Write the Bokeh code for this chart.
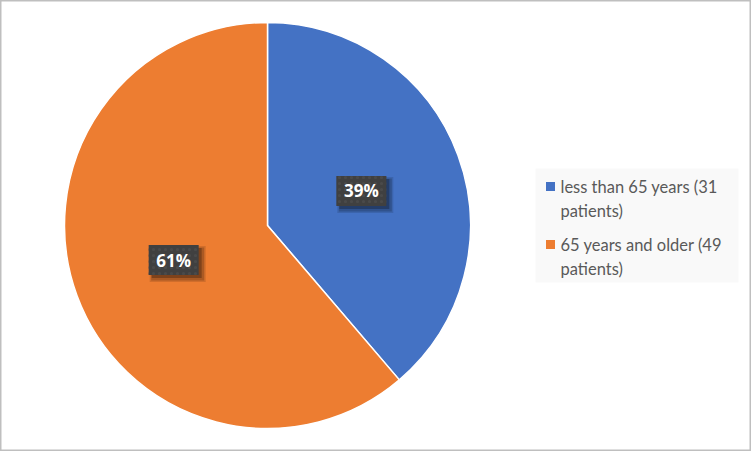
import numpy as np
from bokeh.plotting import figure
from bokeh.models import Range1d, ColumnDataSource
from bokeh.core.properties import value
from bokeh.embed import file_html
from bokeh.resources import INLINE

# ---- data ----
categories = ["less than 65 years (31 patients)", "65 years and older (49 patients)"]
patients = [31, 49]
pct_labels = ["39%", "61%"]
colors = ["#4472C4", "#ED7D31"]
legend_lines = [["less than 65 years (31", "patients)"], ["65 years and older (49", "patients)"]]

W, H = 751, 451
p = figure(width=W, height=H, output_backend="svg", toolbar_location=None,
           x_range=Range1d(0, W), y_range=Range1d(0, H), min_border=0)
p.axis.visible = False
p.grid.visible = False
p.outline_line_color = "#BFBFBF"
p.outline_line_width = 2
p.background_fill_color = "white"
p.border_fill_color = "white"

def sx(x):  # screenshot x -> data
    return x
def sy(y):
    return H - y

cx, cy, R = sx(267), sy(225), 203
vals = np.array(patients, dtype=float)
frac = vals / vals.sum()
ends = np.pi / 2 - 2 * np.pi * np.cumsum(frac)
starts = np.concatenate([[np.pi / 2], ends[:-1]])
src = ColumnDataSource(dict(start=ends, end=starts, color=colors))
p.wedge(x=cx, y=cy, radius=R, start_angle="start", end_angle="end",
        fill_color="color", line_color="white", line_width=1.5, source=src)

mid = (starts + ends) / 2
lr = 100
lx = cx + lr * np.cos(mid)
ly = cy + lr * np.sin(mid)
bw, bh = 50, 30
# soft shadow
for off, a, grow in [(4, 0.12, 6), (4, 0.18, 3), (3, 0.25, 0)]:
    p.rect(x=lx + off, y=ly - off, width=bw + grow, height=bh + grow,
           fill_color="black", fill_alpha=a, line_color=None)
p.rect(x=lx, y=ly, width=bw, height=bh, fill_color="#404040", line_color=None,
       hatch_pattern="dot", hatch_color="#4a4a4a", hatch_scale=6, hatch_weight=1.2)
p.text(x=lx, y=ly, text=pct_labels, text_color="white", text_font=value("Open Sans"),
       text_font_size="17px", text_font_style="bold", text_align="center",
       text_baseline="middle")

# legend
p.rect(x=sx(636.5), y=sy(225), width=203, height=114, fill_color="#F9F9F9", line_color=None)
leg_y = [186, 244]
for i, lines in enumerate(legend_lines):
    p.rect(x=sx(550), y=sy(leg_y[i]), width=9, height=9, fill_color=colors[i], line_color=None)
    ys = [sy(leg_y[i]), sy(leg_y[i] + 24)]
    p.text(x=[sx(560)] * len(lines), y=ys, text=lines, text_color="#595959",
           text_font=value("Lato"), text_font_size="16.5px", text_align="left",
           text_baseline="middle")

open("out.html", "w").write(file_html(p, INLINE))
